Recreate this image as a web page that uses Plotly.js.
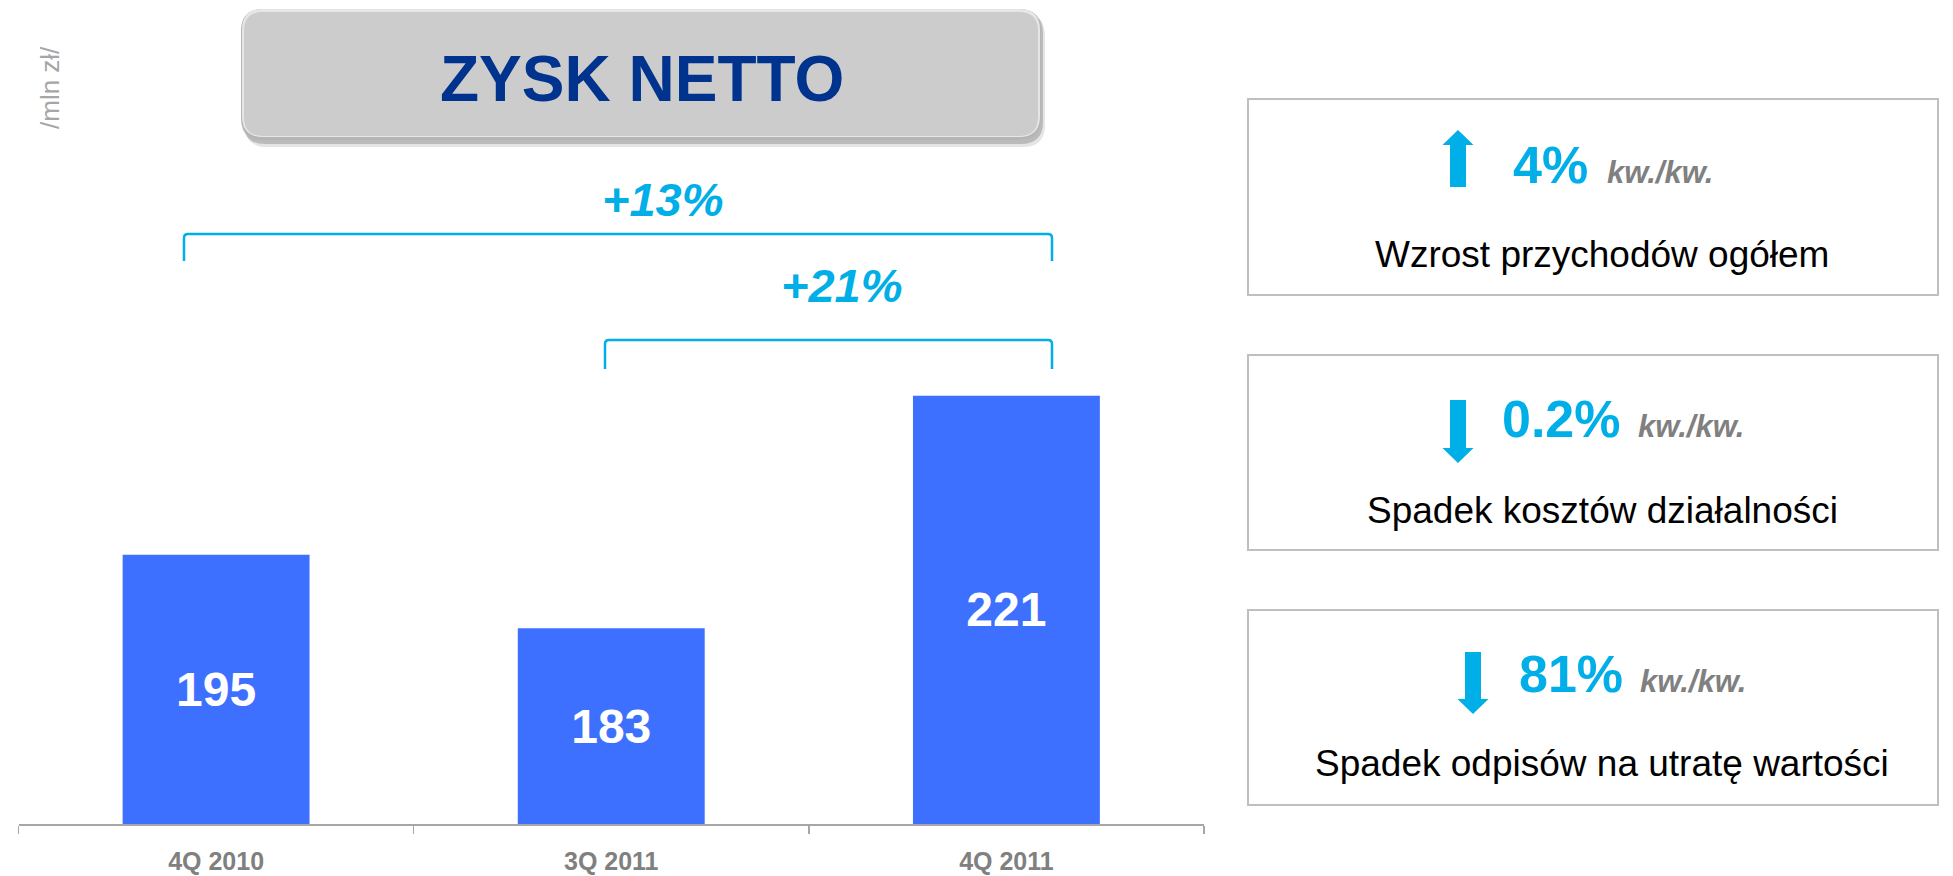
<!DOCTYPE html>
<html>
<head>
<meta charset="utf-8">
<script src="https://cdn.plot.ly/plotly-3.0.1.min.js"></script>
<style>
  html, body { margin: 0; padding: 0; background: #ffffff; }
  #chart { width: 1953px; height: 876px; }
</style>
</head>
<body>
<div id="chart"></div>
<script>
// ---- data ----
const categories = ['4Q 2010', '3Q 2011', '4Q 2011'];
const netProfit = [195, 183, 221];          // mln zł
const axisMin = 151;                          // value axis starts above zero
const chartTitle = 'ZYSK NETTO';
const unitLabel = '/mln zł/';
const changeLabels = ['+13%', '+21%'];
const kpiValues = ['4%', '0.2%', '81%'];
const kpiDirections = ['up', 'down', 'down'];
const kpiPeriod = 'kw./kw.';
const kpiTexts = ['Wzrost przychodów ogółem', 'Spadek kosztów działalności', 'Spadek odpisów na utratę wartości'];

// ---- helpers (pixel -> paper) ----
const W = 1953, H = 876;
const X = p => p / W;
const Y = p => 1 - p / H;
const pt = (x, y) => X(x).toFixed(5) + ',' + Y(y).toFixed(5);

function roundRect(x0, y0, x1, y1, r) {
  return 'M' + pt(x0 + r, y0) + ' L' + pt(x1 - r, y0) + ' Q' + pt(x1, y0) + ' ' + pt(x1, y0 + r) +
    ' L' + pt(x1, y1 - r) + ' Q' + pt(x1, y1) + ' ' + pt(x1 - r, y1) +
    ' L' + pt(x0 + r, y1) + ' Q' + pt(x0, y1) + ' ' + pt(x0, y1 - r) +
    ' L' + pt(x0, y0 + r) + ' Q' + pt(x0, y0) + ' ' + pt(x0 + r, y0) + ' Z';
}
function bracket(x0, x1, yt, yb, r) {
  return 'M' + pt(x0, yb) + ' L' + pt(x0, yt + r) + ' Q' + pt(x0, yt) + ' ' + pt(x0 + r, yt) +
    ' L' + pt(x1 - r, yt) + ' Q' + pt(x1, yt) + ' ' + pt(x1, yt + r) + ' L' + pt(x1, yb);
}
function arrow(cx, yTail, yTip, shaftW, headW, headH) {
  const dir = yTip < yTail ? 1 : -1; // 1 = up
  const hy = yTip + dir * headH;
  return 'M' + pt(cx - shaftW / 2, yTail) + ' L' + pt(cx - shaftW / 2, hy) + ' L' + pt(cx - headW / 2, hy) +
    ' L' + pt(cx, yTip) + ' L' + pt(cx + headW / 2, hy) + ' L' + pt(cx + shaftW / 2, hy) +
    ' L' + pt(cx + shaftW / 2, yTail) + ' Z';
}

const CYAN = '#00aee8';
const FONT = 'Liberation Sans, Arial, sans-serif';

const trace = {
  type: 'bar',
  x: categories,
  y: netProfit.map(v => v - axisMin),
  base: axisMin,
  text: netProfit.map(String),
  textposition: 'inside',
  insidetextanchor: 'middle',
  constraintext: 'none',
  textangle: 0,
  textfont: { family: FONT, size: 48, color: '#ffffff', weight: 'bold' },
  marker: { color: '#3d70ff', line: { width: 0 } },
  hoverinfo: 'skip'
};

const shapes = [];
const annotations = [];

// title box with shadow
shapes.push({ type: 'path', xref: 'paper', yref: 'paper', path: roundRect(245, 14, 1045, 147, 22), fillcolor: 'rgba(0,0,0,0.10)', line: { width: 0 } });
shapes.push({ type: 'path', xref: 'paper', yref: 'paper', path: roundRect(243, 11, 1043, 144, 22), fillcolor: 'rgba(0,0,0,0.18)', line: { width: 0 } });
shapes.push({ type: 'path', xref: 'paper', yref: 'paper', path: roundRect(241, 9, 1041, 140, 22), fillcolor: '#b5b5b5', line: { width: 0 } });
shapes.push({ type: 'path', xref: 'paper', yref: 'paper', path: roundRect(242, 9, 1040, 137, 21), fillcolor: '#e6e6e6', line: { width: 0 } });
shapes.push({ type: 'path', xref: 'paper', yref: 'paper', path: roundRect(244, 12, 1038, 136, 19), fillcolor: '#cccccc', line: { width: 0 } });

// brackets
shapes.push({ type: 'path', xref: 'paper', yref: 'paper', path: bracket(184, 1052, 234, 261, 4), line: { color: CYAN, width: 2.5 } });
shapes.push({ type: 'path', xref: 'paper', yref: 'paper', path: bracket(605, 1052, 340, 369, 4), line: { color: CYAN, width: 2.5 } });

// right-hand boxes
const boxes = [[99, 295], [355, 550], [610, 805]];
boxes.forEach(b => {
  shapes.push({ type: 'rect', xref: 'paper', yref: 'paper', x0: X(1248), x1: X(1938), y0: Y(b[0]), y1: Y(b[1]), line: { color: '#bfbfbf', width: 2 }, fillcolor: 'rgba(0,0,0,0)' });
});

// arrows
const arrowGeom = [
  { cx: 1458, tail: 187, tip: 130 },
  { cx: 1458, tail: 400, tip: 463 },
  { cx: 1473, tail: 652, tip: 714 }
];
arrowGeom.forEach((a, i) => {
  shapes.push({ type: 'path', xref: 'paper', yref: 'paper', path: arrow(a.cx, a.tail, a.tip, 16, 31, 15), fillcolor: CYAN, line: { width: 0 } });
});

// texts
annotations.push({ xref: 'paper', yref: 'paper', x: X(50), y: Y(88), text: unitLabel, textangle: -90, showarrow: false,
  font: { family: FONT, size: 26, color: '#a6a6a6' }, xanchor: 'center', yanchor: 'middle' });
annotations.push({ xref: 'paper', yref: 'paper', x: X(642), y: Y(79), text: '<b>' + chartTitle + '</b>', showarrow: false,
  font: { family: FONT, size: 64, color: '#00338d' }, xanchor: 'center', yanchor: 'middle' });
annotations.push({ xref: 'paper', yref: 'paper', x: X(663), y: Y(199), text: '<b><i>' + changeLabels[0] + '</i></b>', showarrow: false,
  font: { family: FONT, size: 47, color: CYAN }, xanchor: 'center', yanchor: 'middle' });
annotations.push({ xref: 'paper', yref: 'paper', x: X(842), y: Y(285), text: '<b><i>' + changeLabels[1] + '</i></b>', showarrow: false,
  font: { family: FONT, size: 47, color: CYAN }, xanchor: 'center', yanchor: 'middle' });

const kpiPos = [
  { vx: 1512, kx: 1606, base: 183, tc: 255 },
  { vx: 1501, kx: 1637, base: 437, tc: 510 },
  { vx: 1518, kx: 1639, base: 692, tc: 763 }
];
kpiPos.forEach((p, i) => {
  annotations.push({ xref: 'paper', yref: 'paper', x: X(p.vx), y: Y(p.base - 0.3465 * 52), text: '<b>' + kpiValues[i] + '</b>', showarrow: false,
    font: { family: FONT, size: 52, color: CYAN }, xanchor: 'left', yanchor: 'middle', borderpad: 0 });
  annotations.push({ xref: 'paper', yref: 'paper', x: X(p.kx), y: Y(p.base - 0.3465 * 31), text: '<b><i>' + kpiPeriod + '</i></b>', showarrow: false,
    font: { family: FONT, size: 31, color: '#808080' }, xanchor: 'left', yanchor: 'middle', borderpad: 0 });
  annotations.push({ xref: 'paper', yref: 'paper', x: X(1602), y: Y(p.tc), text: kpiTexts[i], showarrow: false,
    font: { family: FONT, size: 37, color: '#000000' }, xanchor: 'center', yanchor: 'middle', borderpad: 0 });
});

const layout = {
  width: W, height: H,
  margin: { l: 0, r: 0, t: 0, b: 0, pad: 0 },
  paper_bgcolor: '#ffffff', plot_bgcolor: 'rgba(0,0,0,0)',
  showlegend: false,
  bargap: 0.527,
  xaxis: {
    domain: [X(18.5), X(1204)],
    type: 'category',
    range: [-0.5, 2.5],
    showline: true, linecolor: '#a6a6a6', linewidth: 2,
    ticks: 'outside', tickson: 'boundaries', ticklen: 8, tickcolor: '#a6a6a6', tickwidth: 1.5,
    tickfont: { family: FONT, size: 25, color: '#808080', weight: 'bold' },
    ticklabelstandoff: 14,
    showgrid: false, zeroline: false, automargin: false, fixedrange: true
  },
  yaxis: {
    domain: [1 - 824 / H, 1 - 10 / H],
    range: [axisMin, axisMin + 814 / 6.117],
    visible: false, showgrid: false, zeroline: false, automargin: false, fixedrange: true
  },
  shapes: shapes,
  annotations: annotations
};

Plotly.newPlot('chart', [trace], layout, { displayModeBar: false, staticPlot: true });
</script>
</body>
</html>
